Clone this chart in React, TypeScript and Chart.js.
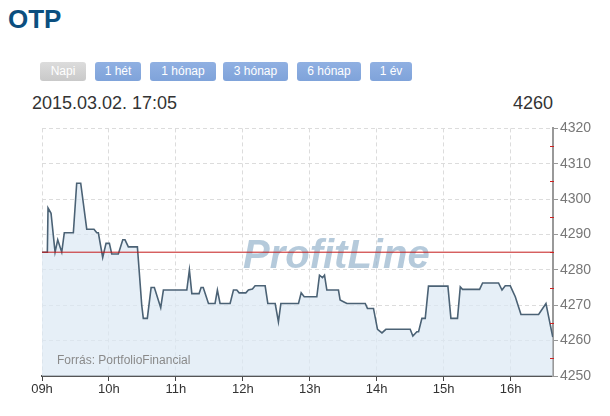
import React, { useEffect, useRef } from "react";
import { Chart, registerables } from "chart.js";

Chart.register(...registerables);

// ---- data ----
const minutes = [
  0, 4.8, 5.4, 8.1, 11.7, 14.1, 17.7, 20, 28.1, 31.1, 34.7, 40.1, 46.6, 49.1, 50.5, 54.4, 57.4,
  60.4, 62.5, 68.4, 72.4, 74.4, 77.4, 85.5, 89.4, 90.8, 94.4, 97.8, 100.7, 106.4, 108.8, 129.8,
  132.1, 134.3, 140.8, 142.6, 144.5, 149.2, 155.1, 157.2, 159.6, 168.6, 171.6, 174.6, 176.7,
  182.7, 185, 188.6, 191, 200, 202.4, 209, 211.9, 214.1, 229.9, 232.3, 235, 246.3, 248.7, 251.4,
  253.2, 255.3, 265.7, 267.2, 270.2, 273.3, 289.7, 291.7, 297.1, 300.7, 304.7, 308.2, 330, 332.4,
  336, 337.5, 340.5, 343.5, 346.4, 363.8, 366.5, 372.4, 374.9, 376.9, 392.2, 394.9, 409.2, 412.3,
  415.2, 419.7, 424.2, 429.3, 445.1, 451.7, 457.8,
];
const prices = [
  4285, 4285, 4297.5, 4296, 4285, 4288.5, 4285, 4290.5, 4290.5, 4304.5, 4304.5, 4291.5, 4291.5,
  4290.5, 4290.5, 4283.5, 4287.5, 4287.5, 4284.5, 4284.5, 4288.5, 4288.5, 4286.5, 4286.5, 4270,
  4266.3, 4266.3, 4275, 4275, 4269.3, 4274.3, 4274.3, 4280, 4273.3, 4273.3, 4275, 4275, 4270.5,
  4270.5, 4274.3, 4270.5, 4270.5, 4274.3, 4274.3, 4273.5, 4273.5, 4274.3, 4274.6, 4275.5, 4275.5,
  4270.5, 4270.5, 4265.3, 4270.5, 4270.5, 4273.5, 4272.4, 4272.4, 4278.5, 4277.8, 4278.5, 4274.3,
  4274.3, 4271.5, 4271, 4270.5, 4270.5, 4269.1, 4269.1, 4263.2, 4262.2, 4263.2, 4263.2, 4261.3,
  4262.5, 4262.5, 4266.3, 4266.3, 4275.4, 4275.4, 4266.3, 4266.3, 4275.2, 4274.5, 4274.5, 4276.3,
  4276.3, 4274.3, 4275.5, 4275.5, 4272.4, 4267.4, 4267.4, 4270.5, 4261,
];
const hourTicks = [0, 60, 120, 180, 240, 300, 360, 420];
const hourLabels = ["09h", "10h", "11h", "12h", "13h", "14h", "15h", "16h"];
const sessionStart = 0;
const sessionEnd = 458;
const yMin = 4250;
const yMax = 4320;
const yStep = 10;
const minorTicks = [4255, 4265, 4275, 4285, 4295, 4305, 4315];
const prevClose = 4285;
const lastPrice = "4260";
const stamp = "2015.03.02. 17:05";
const title = "OTP";
const buttonLabels = ["Napi", "1 hét", "1 hónap", "3 hónap", "6 hónap", "1 év"];
const sourceText = "Forrás: PortfolioFinancial";
const watermark = "ProfitLine";

const FONT = "'Liberation Sans', Arial, sans-serif";

export default function App() {
  const ref = useRef<HTMLCanvasElement | null>(null);

  useEffect(() => {
    const canvas = ref.current;
    if (!canvas) return;

    const extras = {
      id: "extras",
      beforeDatasetsDraw(chart: any) {
        const { ctx, chartArea } = chart;
        ctx.save();
        ctx.font = `italic bold 40px ${FONT}`;
        ctx.fillStyle = "rgba(150,180,204,0.7)";
        ctx.textBaseline = "alphabetic";
        ctx.textAlign = "left";
        ctx.fillText(watermark, chartArea.left + 201, chartArea.top + 140);
        ctx.restore();
      },
      afterDraw(chart: any) {
        const { ctx, chartArea } = chart;
        const ys = chart.scales.y;
        ctx.save();
        ctx.strokeStyle = "#d02020";
        ctx.lineWidth = 1;
        for (const v of minorTicks) {
          const py = Math.round(ys.getPixelForValue(v)) + 0.5;
          ctx.beginPath();
          ctx.moveTo(chartArea.right - 3, py);
          ctx.lineTo(chartArea.right + 1, py);
          ctx.stroke();
        }
        ctx.font = `12px ${FONT}`;
        ctx.fillStyle = "#8a8a8a";
        ctx.textBaseline = "middle";
        ctx.fillText(sourceText, chartArea.left + 15, chartArea.bottom - 15);
        ctx.restore();
      },
    };

    const chart = new Chart(canvas, {
      type: "line",
      data: {
        datasets: [
          {
            data: [
              { x: sessionStart, y: prevClose },
              { x: sessionEnd, y: prevClose },
            ],
            borderColor: "#c41a1a",
            borderWidth: 1,
            pointRadius: 0,
            fill: false,
            order: 0,
          },
          {
            data: minutes.map((m, i) => ({ x: m, y: prices[i] })),
            borderColor: "#4b6275",
            borderWidth: 1.6,
            backgroundColor: "rgba(220,232,244,0.7)",
            fill: "start",
            pointRadius: 0,
            tension: 0,
            order: 1,
          },
        ],
      },
      options: {
        animation: false,
        responsive: false,
        devicePixelRatio: 1,
        layout: { padding: { left: 42, top: 10, right: 0, bottom: 0 } },
        plugins: { legend: { display: false }, tooltip: { enabled: false } },
        scales: {
          x: {
            type: "linear",
            min: sessionStart,
            max: sessionEnd,
            afterBuildTicks: (s: any) => {
              s.ticks = hourTicks.map((v) => ({ value: v }));
            },
            afterFit: (s: any) => {
              s.height = 40;
            },
            ticks: {
              callback: (v: any) => hourLabels[hourTicks.indexOf(Number(v))] ?? "",
              color: "#333",
              font: { family: FONT, size: 13 },
              padding: 1,
              maxRotation: 0,
              autoSkip: false,
            },
            grid: {
              color: "#dcdcdc",
              tickColor: "#444",
              tickLength: 5,
              tickBorderDash: [],
            },
            border: { color: "#555", width: 2, dash: [4, 3] },
          },
          y: {
            type: "linear",
            position: "right",
            min: yMin,
            max: yMax,
            afterFit: (s: any) => {
              s.width = 57;
            },
            ticks: {
              stepSize: yStep,
              callback: (v: any) => String(v),
              color: "#777",
              font: { family: FONT, size: 14 },
              padding: 2,
            },
            grid: {
              color: "#dcdcdc",
              tickColor: "#999",
              tickLength: 5,
              tickBorderDash: [],
            },
            border: { color: "#999", width: 2, dash: [4, 3] },
          },
        },
      },
      plugins: [extras],
    } as any);

    return () => chart.destroy();
  }, []);

  const btnLefts = [40, 95, 150, 223, 297, 370];
  const btnWidths = [46, 46, 66, 65, 64, 42];

  return (
    <div
      style={{
        position: "fixed",
        left: 0,
        top: 0,
        width: 610,
        height: 416,
        background: "#fff",
        fontFamily: FONT,
        overflow: "hidden",
      }}
    >
      <div
        style={{
          position: "absolute",
          left: 8,
          top: 4,
          fontSize: 26,
          fontWeight: "bold",
          color: "#0b4f7f",
          lineHeight: "30px",
        }}
      >
        {title}
      </div>
      {buttonLabels.map((b, i) => (
        <div
          key={b}
          style={{
            position: "absolute",
            left: btnLefts[i],
            top: 62,
            width: btnWidths[i],
            height: 19,
            lineHeight: "19px",
            textAlign: "center",
            fontSize: 12,
            color: "#fff",
            borderRadius: 3,
            background: i === 0 ? "linear-gradient(#dcdcdc,#c9c9c9)" : "linear-gradient(#90b0e2,#7fa3da)",
          }}
        >
          {b}
        </div>
      ))}
      <div
        style={{
          position: "absolute",
          left: 32,
          top: 92,
          fontSize: 18,
          color: "#333",
          lineHeight: "22px",
        }}
      >
        {stamp}
      </div>
      <div
        style={{
          position: "absolute",
          right: 610 - 553,
          top: 92,
          fontSize: 18,
          color: "#333",
          lineHeight: "22px",
        }}
      >
        {lastPrice}
      </div>
      <canvas
        ref={ref}
        width={610}
        height={298}
        style={{ position: "absolute", left: 0, top: 118, width: 610, height: 298 }}
      />
    </div>
  );
}
